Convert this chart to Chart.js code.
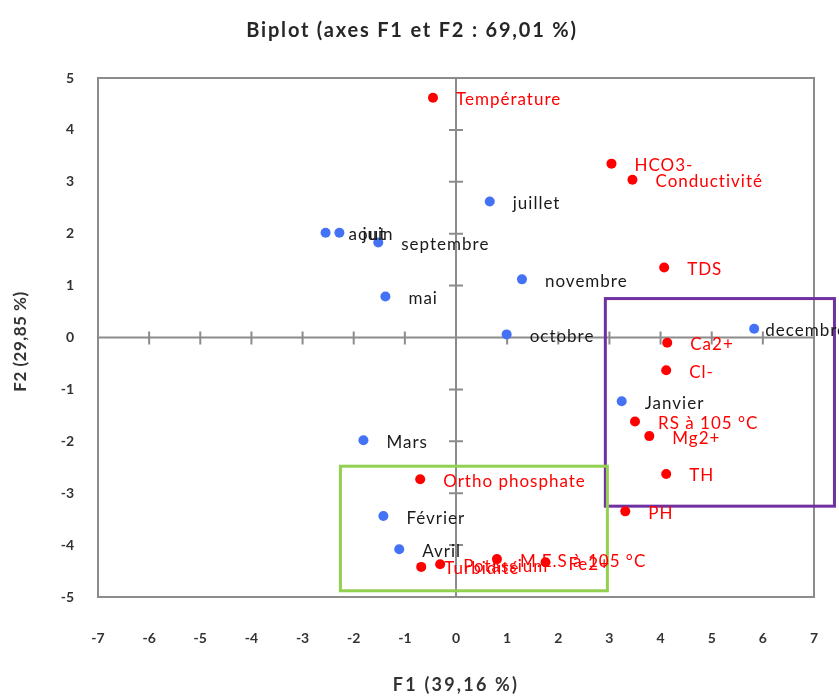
<!DOCTYPE html>
<html>
<head>
<meta charset="utf-8">
<title>Biplot</title>
<script src="https://cdn.jsdelivr.net/npm/chart.js@4.4.1/dist/chart.umd.min.js"></script>
<style>
  html, body { margin: 0; padding: 0; background: #fff; }
  canvas { display: block; }
</style>
</head>
<body>
<canvas id="chart" width="839" height="697"></canvas>
<script>
// observations (months)
const obsNames = ['juillet', 'aout', 'juin', 'septembre', 'novembre', 'mai', 'octobre', 'decembre', 'Janvier', 'Mars', 'Février', 'Avril'];
const obsF1 = [0.66, -2.55, -2.28, -1.52, 1.29, -1.38, 0.99, 5.83, 3.24, -1.81, -1.42, -1.11];
const obsF2 = [2.62, 2.02, 2.02, 1.83, 1.12, 0.79, 0.06, 0.17, -1.23, -1.98, -3.44, -4.08];

// variables
const varNames = ['Température', 'HCO3-', 'Conductivité', 'TDS', 'Ca2+', 'Cl-', 'RS à 105 °C', 'Mg2+', 'TH', 'PH', 'Ortho phosphate', 'Turbidité', 'Potassium', 'Fe2+', 'M.E.S à 105 °C'];
const varF1 = [-0.45, 3.04, 3.45, 4.07, 4.13, 4.11, 3.50, 3.78, 4.11, 3.31, -0.70, -0.68, -0.31, 1.75, 0.80];
const varF2 = [4.62, 3.35, 3.04, 1.35, -0.10, -0.63, -1.62, -1.90, -2.63, -3.35, -2.73, -4.42, -4.37, -4.33, -4.27];

// axes
const xTicks = [-7, -6, -5, -4, -3, -2, -1, 0, 1, 2, 3, 4, 5, 6, 7];
const yTicks = [-5, -4, -3, -2, -1, 0, 1, 2, 3, 4, 5];
const chartTitle = 'Biplot (axes F1 et F2 : 69,01 %)';
const xTitle = 'F1 (39,16 %)';
const yTitle = 'F2 (29,85 %)';

// highlighted groups [F1 min, F1 max, F2 min, F2 max]
const purpleBox = [2.92, 7.4, -3.25, 0.75];
const greenBox = [-2.26, 2.96, -4.88, -2.48];

const toPoints = (xs, ys) => xs.map((x, i) => ({ x: x, y: ys[i] }));

const axesPlugin = {
  id: 'axesFrame',
  beforeDatasetsDraw(chart) {
    const { ctx, chartArea: a, scales: { x, y } } = chart;
    const x0 = x.getPixelForValue(0);
    const y0 = y.getPixelForValue(0);
    ctx.save();
    ctx.strokeStyle = '#8c8c8c';
    ctx.lineWidth = 2;
    // zero lines
    ctx.beginPath();
    ctx.moveTo(a.left, y0); ctx.lineTo(a.right, y0);
    ctx.moveTo(x0, a.top); ctx.lineTo(x0, a.bottom);
    // tick marks on zero lines
    xTicks.slice(1, -1).forEach(t => {
      const px = x.getPixelForValue(t);
      ctx.moveTo(px, y0 - 6); ctx.lineTo(px, y0 + 7);
    });
    yTicks.slice(1, -1).forEach(t => {
      const py = y.getPixelForValue(t);
      ctx.moveTo(x0 - 7, py); ctx.lineTo(x0 + 7, py);
    });
    ctx.stroke();
    // frame
    ctx.strokeRect(a.left, a.top, a.right - a.left, a.bottom - a.top);

    // tick labels, set away from the frame
    ctx.fillStyle = '#333';
    ctx.font = 'bold 14px Lato';
    ctx.textBaseline = 'middle';
    ctx.textAlign = 'right';
    yTicks.forEach(t => ctx.fillText(String(t), a.left - 24, y.getPixelForValue(t)));
    ctx.textAlign = 'center';
    xTicks.forEach(t => ctx.fillText(String(t), x.getPixelForValue(t), a.bottom + 41));

    // group boxes
    const box = (b, color) => {
      const l = x.getPixelForValue(b[0]), r = x.getPixelForValue(b[1]);
      const t = y.getPixelForValue(b[3]), bt = y.getPixelForValue(b[2]);
      ctx.strokeStyle = color;
      ctx.lineWidth = 3;
      ctx.strokeRect(l, t, r - l, bt - t);
    };
    box(purpleBox, '#7030a0');
    box(greenBox, '#92d050');
    ctx.restore();
  }
};

const labelPlugin = {
  id: 'pointLabels',
  afterDatasetsDraw(chart) {
    const ctx = chart.ctx;
    ctx.save();
    ctx.font = '17px Lato';
    ctx.letterSpacing = '1px';
    ctx.textBaseline = 'middle';
    ctx.textAlign = 'left';
    chart.data.datasets.forEach((ds, i) => {
      const meta = chart.getDatasetMeta(i);
      ctx.fillStyle = ds.labelColor;
      meta.data.forEach((pt, j) => {
        const w = ctx.measureText(ds.names[j]).width;
        const lx = Math.min(pt.x + 23, chart.width - w + 8);
        ctx.fillText(ds.names[j], lx, pt.y + 2);
      });
    });
    ctx.restore();
  }
};

const titlesPlugin = {
  id: 'titles',
  afterDraw(chart) {
    const { ctx, chartArea: a } = chart;
    ctx.save();
    ctx.fillStyle = '#262626';
    ctx.textAlign = 'center';
    ctx.textBaseline = 'middle';
    ctx.font = 'bold 20px Lato';
    ctx.letterSpacing = '1.8px';
    ctx.fillText(chartTitle, 412, 31);
    ctx.fillStyle = '#333';
    ctx.font = 'bold 18px Lato';
    ctx.letterSpacing = '2.2px';
    ctx.fillText(xTitle, (a.left + a.right) / 2, 685);
    ctx.translate(21, (a.top + a.bottom) / 2 + 4);
    ctx.rotate(-Math.PI / 2);
    ctx.font = 'bold 17px Lato';
    ctx.letterSpacing = '0.5px';
    ctx.fillText(yTitle, 0, 0);
    ctx.restore();
  }
};

new Chart(document.getElementById('chart'), {
  type: 'scatter',
  data: {
    datasets: [
      {
        label: 'Observations',
        names: obsNames,
        labelColor: '#1a1a1a',
        data: toPoints(obsF1, obsF2),
        backgroundColor: '#4472f4',
        pointRadius: 5,
        pointBorderWidth: 0
      },
      {
        label: 'Variables',
        names: varNames,
        labelColor: '#ff0000',
        data: toPoints(varF1, varF2),
        backgroundColor: '#ff0000',
        pointRadius: 5,
        pointBorderWidth: 0
      }
    ]
  },
  options: {
    responsive: false,
    animation: false,
    layout: { padding: { left: 0, right: 25, top: 78, bottom: 0 } },
    plugins: {
      legend: { display: false },
      tooltip: { enabled: false },
      title: { display: false }
    },
    scales: {
      x: {
        type: 'linear',
        min: -7,
        max: 7,
        afterFit: s => { s.height = 100; },
        grid: { display: false },
        border: { display: false },
        ticks: { display: false, stepSize: 1 },
        title: { display: false }
      },
      y: {
        type: 'linear',
        min: -5,
        max: 5,
        afterFit: s => { s.width = 98; },
        grid: { display: false },
        border: { display: false },
        ticks: { display: false, stepSize: 1 },
        title: { display: false }
      }
    }
  },
  plugins: [axesPlugin, labelPlugin, titlesPlugin]
});
</script>
</body>
</html>
